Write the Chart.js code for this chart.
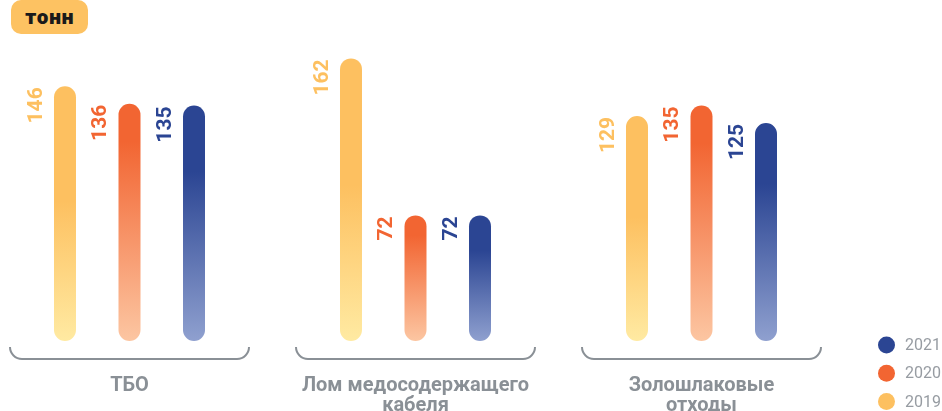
<!DOCTYPE html>
<html>
<head>
<meta charset="utf-8">
<script src="https://cdn.jsdelivr.net/npm/chart.js@4.4.1/dist/chart.umd.min.js"></script>
<style>
  html, body { margin: 0; padding: 0; background: #fff; }
  #wrap { position: relative; width: 942px; height: 411px; overflow: hidden; }
  #unit {
    position: absolute; left: 11px; top: 0px; width: 77px; height: 34px;
    background: #fdc262; border-radius: 10px;
    font: 800 19px "Open Sans", sans-serif; color: #1a1a1a;
    text-align: center; line-height: 34px;
  }
  canvas { position: absolute; left: 0; top: 0; }
</style>
</head>
<body>
<div id="wrap">
  <canvas id="waste" width="942" height="411"></canvas>
  <div id="unit">тонн</div>
</div>
<script>
// Данные с картинки
var categories = [["ТБО"], ["Лом медосодержащего", "кабеля"], ["Золошлаковые", "отходы"]];
var years = ["2019", "2020", "2021"];
var values2019 = [146, 162, 129];
var values2020 = [136, 72, 135];
var values2021 = [135, 72, 125];

var topColors = ["#fdc060", "#f26532", "#2b4593"];
var bottomColors = ["#ffeaa2", "#fcc6a2", "#8fa0cf"];
var solidPart = [0.45, 0.16, 0.28]; // где начинается осветление
var grey = "#8a9096";

function barGradient(i) {
  return function (context) {
    var chart = context.chart;
    var area = chart.chartArea;
    if (!area || context.raw === undefined) return topColors[i];
    var top = chart.scales.y.getPixelForValue(context.raw);
    var g = chart.ctx.createLinearGradient(0, top, 0, area.bottom);
    g.addColorStop(0, topColors[i]);
    g.addColorStop(solidPart[i], topColors[i]);
    g.addColorStop(1, bottomColors[i]);
    return g;
  };
}

// подписи значений, скобки, категории и легенда
var decorPlugin = {
  id: "decor",
  afterDatasetsDraw: function (chart) {
    var ctx = chart.ctx;
    ctx.save();
    ctx.font = "700 21px Roboto, sans-serif";
    ctx.textAlign = "right";
    ctx.textBaseline = "middle";
    chart.data.datasets.forEach(function (ds, i) {
      var meta = chart.getDatasetMeta(i);
      meta.data.forEach(function (bar, j) {
        var left = bar.x - bar.width / 2;
        ctx.save();
        ctx.translate(left - 17.5, bar.y + 1);
        ctx.rotate(-Math.PI / 2);
        ctx.fillStyle = topColors[i];
        ctx.fillText(String(ds.data[j]), 0, 0);
        ctx.restore();
      });
    });
    ctx.restore();
  },
  afterDraw: function (chart) {
    var ctx = chart.ctx;
    var x = chart.scales.x;
    ctx.save();
    // скобки
    ctx.strokeStyle = grey;
    ctx.lineWidth = 2;
    var half = 119.5, yLine = 359, r = 12;
    categories.forEach(function (c, i) {
      var cx = x.getPixelForValue(i);
      ctx.beginPath();
      ctx.moveTo(cx - half, yLine - r);
      ctx.arcTo(cx - half, yLine, cx - half + r, yLine, r);
      ctx.lineTo(cx + half - r, yLine);
      ctx.arcTo(cx + half, yLine, cx + half, yLine - r, r);
      ctx.stroke();
    });
    // названия категорий
    ctx.fillStyle = grey;
    ctx.font = "700 20px Roboto, sans-serif";
    ctx.textAlign = "center";
    ctx.textBaseline = "alphabetic";
    categories.forEach(function (lines, i) {
      var cx = x.getPixelForValue(i);
      lines.forEach(function (t, k) {
        ctx.fillText(t, cx, 390.5 + k * 20);
      });
    });
    // легенда
    ctx.font = "400 16px Roboto, sans-serif";
    ctx.textAlign = "left";
    ctx.textBaseline = "middle";
    for (var i = years.length - 1, k = 0; i >= 0; i--, k++) {
      var cy = 345 + k * 28.3;
      ctx.beginPath();
      ctx.arc(886.5, cy, 8.5, 0, Math.PI * 2);
      ctx.fillStyle = topColors[i];
      ctx.fill();
      ctx.fillStyle = "#979ca2";
      ctx.fillText(years[i], 905, cy + 1);
    }
    ctx.restore();
  },
};

var datasets = [values2019, values2020, values2021].map(function (vals, i) {
  return {
    label: years[i],
    data: vals,
    backgroundColor: barGradient(i),
    borderSkipped: false,
    borderRadius: 11,
    barPercentage: 0.341,
    categoryPercentage: 0.6766,
    clip: false,
  };
});

new Chart(document.getElementById("waste"), {
  type: "bar",
  data: {
    labels: categories.map(function (c) { return c.join(" "); }),
    datasets: datasets,
  },
  plugins: [decorPlugin],
  options: {
    responsive: false,
    animation: false,
    devicePixelRatio: 1,
    layout: {
      padding: { left: 129.5, right: 240.5, top: 27, bottom: 70 },
    },
    scales: {
      x: { display: false, offset: false, grid: { display: false } },
      y: { display: false, min: 0, max: 180 },
    },
    plugins: {
      legend: { display: false },
      tooltip: { enabled: false },
    },
  },
});
</script>
</body>
</html>
